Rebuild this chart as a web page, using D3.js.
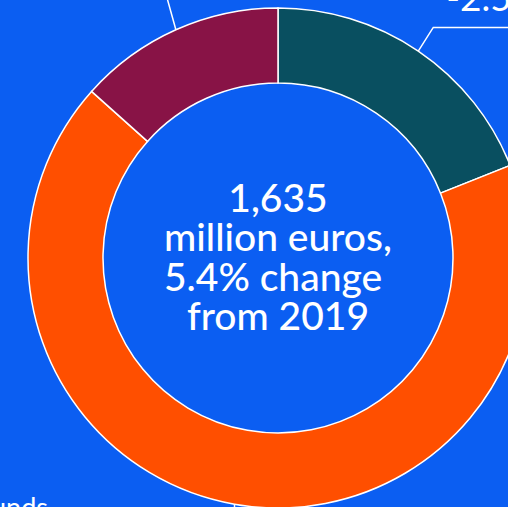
<!DOCTYPE html>
<html>
<head>
<meta charset="utf-8">
<script src="https://cdn.jsdelivr.net/npm/d3@7"></script>
<style>
  html, body { margin: 0; padding: 0; background: #0b5ef2; overflow: hidden; }
  svg { display: block; font-family: Lato, "Open Sans", sans-serif; }
  text { white-space: pre; }
</style>
</head>
<body>
<svg width="508" height="507"></svg>
<script>
// slices, clockwise from 12 o'clock (million euros)
var categories = ["Own revenue", "Funds", "Other"];
var values = [310, 1106, 219];
var changes = ["-2.5%", "", ""];
var colors = ["#094f60", "#ff4f00", "#881346"];

var centerLines = ["1,635", "million euros,", "5.4% change ", "from 2019"];

var svg = d3.select("svg"),
  width = +svg.attr("width"),
  height = +svg.attr("height");

var cx = 278, cy = 258,
  outerR = 250, innerR = 175;

var data = categories.map(function(c, i) {
  return { name: c, value: values[i], change: changes[i], color: colors[i] };
});

var pie = d3.pie()
  .sort(null)
  .value(function(d) { return d.value; });

var arc = d3.arc()
  .innerRadius(innerR)
  .outerRadius(outerR);

var g = svg.append("g")
  .attr("transform", "translate(" + cx + "," + cy + ")");

var arcs = pie(data);

g.selectAll("path.slice")
  .data(arcs)
  .enter().append("path")
    .attr("class", "slice")
    .attr("d", arc)
    .attr("fill", function(d) { return d.data.color; })
    .attr("stroke", "#fff")
    .attr("stroke-width", 1.5);

// leader lines: from the outer edge at mid angle, out to an elbow, then sideways
function polar(a, r) { return [Math.sin(a) * r, -Math.cos(a) * r]; }

// per slice: angle nudge of the leader (rad), leader length, side
var leader = {
  "Own revenue": { shift: -0.03, len: 28, side: 1 },
  "Funds":       { shift: 0, len: 40, side: -1 },
  "Other":       { shift: 0.15, len: 60, side: -1 }
};

arcs.forEach(function(d) {
  var L = leader[d.data.name];
  var mid = (d.startAngle + d.endAngle) / 2;
  var p0 = polar(mid, outerR);
  var dir = polar(mid + L.shift, L.len);
  var p1 = [p0[0] + dir[0], p0[1] + dir[1]];
  if (d.data.name === "Funds") p1 = [p0[0], p0[1] + L.len];
  var p2 = [L.side > 0 ? 300 : -330, p1[1]];

  g.append("polyline")
    .attr("points", [p0, p1, p2].map(function(p) { return p.join(","); }).join(" "))
    .attr("fill", "none")
    .attr("stroke", "#fff")
    .attr("stroke-width", 1.5);

  var label = g.append("text").attr("fill", "#fff");
  if (d.data.name === "Funds") {
    label.attr("x", 48 - cx).attr("y", 517 - cy)
      .attr("text-anchor", "end")
      .attr("font-size", 27)
      .text(d.data.name);
    return;
  }
  var tx = L.side > 0 ? p1[0] + 13 : p1[0] - 13;
  label.attr("text-anchor", L.side > 0 ? "start" : "end");
  label.append("tspan")
    .attr("x", tx).attr("y", p1[1] - 56)
    .attr("font-size", 27)
    .text(d.data.name);
  label.append("tspan")
    .attr("x", tx).attr("y", p1[1] - 16)
    .attr("font-size", 37)
    .text(d.data.change);
});

// centre text
g.append("text")
  .attr("text-anchor", "middle")
  .attr("fill", "#fff")
  .attr("font-size", 39)
  .attr("font-weight", 500)
  .selectAll("tspan")
  .data(centerLines)
  .enter().append("tspan")
    .attr("x", 0)
    .attr("y", function(d, i) { return -46 + i * 39.3; })
    .text(function(d) { return d; });
</script>
</body>
</html>
